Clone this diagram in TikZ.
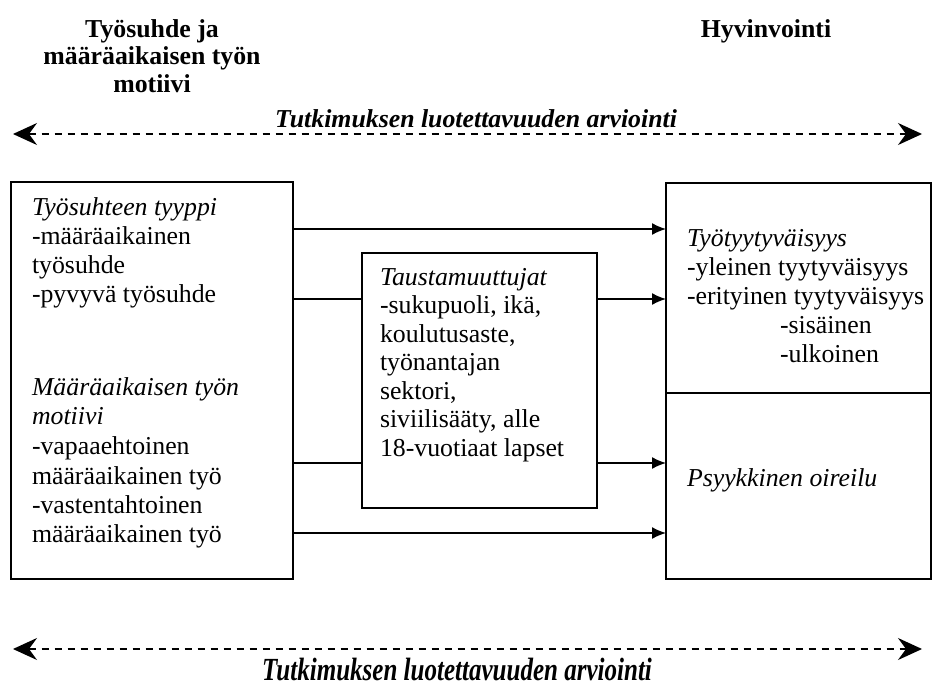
\documentclass[tikz,border=0pt]{standalone}
\usepackage{fontspec}
\setmainfont{Liberation Serif}
\usetikzlibrary{arrows.meta}
\begin{document}
\begin{tikzpicture}[x=1pt,y=-1pt,
  every node/.style={inner sep=0pt,outer sep=0pt},
  txt/.style={anchor=base west,font=\fontsize{25.8}{29}\selectfont},
  hdr/.style={anchor=base,align=center,font=\fontsize{25.8}{27.5}\selectfont\bfseries},
  lbl/.style={anchor=base,font=\fontsize{25.8}{29}\selectfont\bfseries\itshape},
  box/.style={draw,line width=1.5pt},
  arr/.style={line width=1.5pt,-{Latex[length=14pt,width=12pt]}},
  link/.style={line width=1.5pt},
  darr/.style={line width=1.3pt,dash pattern=on 7pt off 6pt,
     {Stealth[length=24pt,width=22pt,inset=8pt]}-{Stealth[length=24pt,width=22pt,inset=8pt]}}
]
\useasboundingbox (0,0) rectangle (934,686);

% headers
\node[hdr] (h1) at (152,92) {Työsuhde ja\\määräaikaisen työn\\motiivi};
\node[hdr] (h2) at (766,37) {Hyvinvointi};

% top dashed arrow
\coordinate (tl) at (13,134);
\coordinate (tr) at (922,134);
\draw[darr] (tl) -- (tr);
\node[lbl] (t1) at (476,127) {Tutkimuksen luotettavuuden arviointi};

% boxes
\node[box,minimum width=282pt,minimum height=397pt] (L) at (152,380.5) {};
\node[box,minimum width=235pt,minimum height=255pt] (M) at (479.5,380.5) {};
\node[box,minimum width=265pt,minimum height=210pt] (R1) at (798.5,288) {};
\node[box,minimum width=265pt,minimum height=186pt] (R2) at (798.5,486) {};

% left box text
\node[txt] (l1) at (32,215) {\itshape Työsuhteen tyyppi};
\node[txt] (l2) at (32,244) {-määräaikainen};
\node[txt] (l3) at (32,273) {työsuhde};
\node[txt] (l4) at (32,302) {-pyvyvä työsuhde};
\node[txt] (l5) at (32,395) {\itshape Määräaikaisen työn};
\node[txt] (l6) at (32,424) {\itshape motiivi};
\node[txt] (l7) at (32,454) {-vapaaehtoinen};
\node[txt] (l8) at (32,484) {määräaikainen työ};
\node[txt] (l9) at (32,513) {-vastentahtoinen};
\node[txt] (l10) at (32,542) {määräaikainen työ};

% middle box text
\node[txt] (m1) at (380,285) {\itshape Taustamuuttujat};
\node[txt] (m2) at (380,313.5) {-sukupuoli, ikä,};
\node[txt] (m3) at (380,342) {koulutusaste,};
\node[txt] (m4) at (380,370.5) {työnantajan};
\node[txt] (m5) at (380,399) {sektori,};
\node[txt] (m6) at (380,427.5) {siviilisääty, alle};
\node[txt] (m7) at (380,456) {18-vuotiaat lapset};

% right box text
\node[txt] (r1) at (687,246) {\itshape Työtyytyväisyys};
\node[txt] (r2) at (687,275) {-yleinen tyytyväisyys};
\node[txt] (r3) at (687,304) {-erityinen tyytyväisyys};
\node[txt] (r4) at (780,333) {-sisäinen};
\node[txt] (r5) at (780,362) {-ulkoinen};
\node[txt] (r6) at (687,486) {\itshape Psyykkinen oireilu};

% connectors
\draw[arr] (L.east |- {(0,229)}) -- (R1.west |- {(0,229)});
\draw[link] (L.east |- {(0,299)}) -- (M.west |- {(0,299)});
\draw[arr] (M.east |- {(0,299)}) -- (R1.west |- {(0,299)});
\draw[link] (L.east |- {(0,463)}) -- (M.west |- {(0,463)});
\draw[arr] (M.east |- {(0,463)}) -- (R2.west |- {(0,463)});
\draw[arr] (L.east |- {(0,533)}) -- (R2.west |- {(0,533)});

% bottom dashed arrow
\coordinate (bl) at (13,649);
\coordinate (br) at (922,649);
\draw[darr] (bl) -- (br);
\node[anchor=base,font=\fontsize{25.8}{29}\selectfont\bfseries\itshape] (t2) at (457,680) {\scalebox{0.97}[1.25]{Tutkimuksen luotettavuuden arviointi}};
\end{tikzpicture}
\end{document}
